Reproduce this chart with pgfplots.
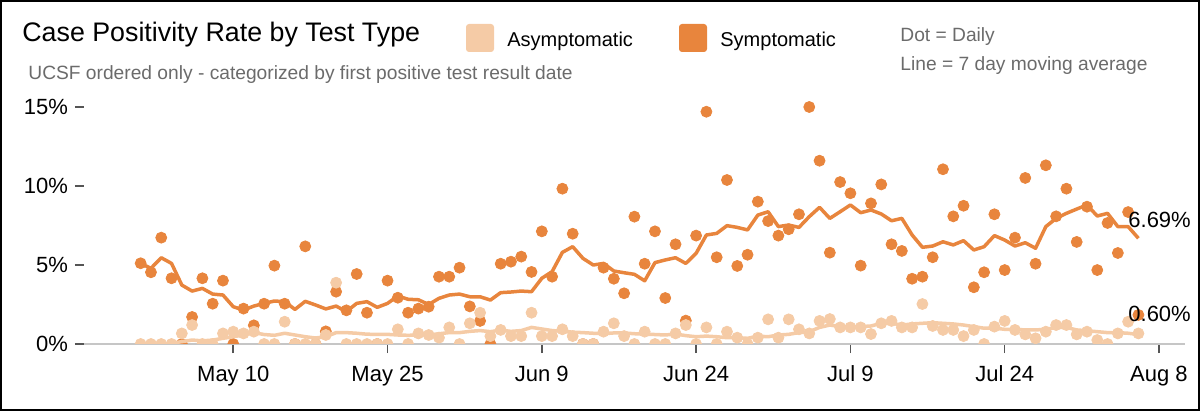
\documentclass[border=0pt]{standalone}
\usepackage{fontspec}
\setmainfont{Liberation Sans}
\usepackage{pgfplots}
\usepackage{pgfplotstable}
\pgfplotsset{compat=1.18}

\definecolor{symc}{HTML}{E8853D}
\definecolor{asymc}{HTML}{F5CBA6}
\definecolor{subgray}{HTML}{6B6B6B}
\definecolor{tickgray}{HTML}{555555}

% day 0 = May 1
\pgfplotstableread{
day val
0 5.11
1 4.54
2 6.73
3 4.16
4 0
5 1.71
6 4.16
7 2.55
8 4.01
9 0
10 2.24
11 1.18
12 2.55
13 4.96
14 2.55
15 0
16 6.18
17 0
18 0.8
19 3.31
20 2.13
21 4.43
22 1.98
23 0
24 4.01
25 2.93
26 1.98
27 2.24
28 2.36
29 4.26
30 4.26
31 4.83
32 2.38
33 1.46
34 0
35 5.08
36 5.21
37 5.53
38 4.56
39 7.13
40 4.26
41 9.83
42 6.98
43 0
44 0
45 4.83
46 4.13
47 3.21
48 8.06
49 5.08
50 7.13
51 2.91
52 6.31
53 1.48
54 6.86
55 14.70
56 5.49
57 10.38
58 4.94
59 5.65
60 9.01
61 7.78
62 6.86
63 7.26
64 8.21
65 15.0
66 11.6
67 5.78
68 10.25
69 9.54
70 4.96
71 8.9
72 10.1
73 6.31
74 5.89
75 4.13
76 4.26
77 5.49
78 11.06
79 8.08
80 8.75
81 3.59
82 4.54
83 8.21
84 4.68
85 6.73
86 10.51
87 5.08
88 11.31
89 8.08
90 9.83
91 6.46
92 8.69
93 4.68
94 7.66
95 5.76
96 8.35
97 1.84
}\symdaily

\pgfplotstableread{
day val
0 5.1
1 4.79
2 5.46
3 5.1
4 3.73
5 3.35
6 3.52
7 3.16
8 3.1
9 2.36
10 2.15
11 2.4
12 2.57
13 2.72
14 2.68
15 2.19
16 2.7
17 2.47
18 2.22
19 2.4
20 2.05
21 2.57
22 2.68
23 2.32
24 2.57
25 3.04
26 2.83
27 2.8
28 2.5
29 2.89
30 3.1
31 3.16
32 2.99
33 2.99
34 2.78
35 3.25
36 3.29
37 3.35
38 3.31
39 4.16
40 4.58
41 5.8
42 6.16
43 5.42
44 5.0
45 5.1
46 4.62
47 4.51
48 4.41
49 4.0
50 5.15
51 5.32
52 5.46
53 5.1
54 5.74
55 6.9
56 7.0
57 7.49
58 7.38
59 7.22
60 8.16
61 8.37
62 7.43
63 7.53
64 7.38
65 8.06
66 8.65
67 7.95
68 8.37
69 8.8
70 8.31
71 8.48
72 8.23
73 7.8
74 7.95
75 6.9
76 6.12
77 6.2
78 6.47
79 6.27
80 6.54
81 5.95
82 6.16
83 6.86
84 6.58
85 6.2
86 6.41
87 6.06
88 7.43
89 7.95
90 8.27
91 8.54
92 8.8
93 8.1
94 8.27
95 7.43
96 7.43
97 6.69
}\symavg

\pgfplotstableread{
day val
0 0
1 0
2 0
3 0
4 0.67
5 1.2
6 0
7 0
8 0.67
9 0.78
10 0.67
11 0.78
12 0
13 0
14 1.41
15 0
16 0
17 0
18 0.57
19 3.88
20 0
21 0
22 0
23 0
24 0
25 0.93
26 0
27 0.67
28 0.57
29 0.4
30 1.05
31 0
32 1.31
33 1.98
34 0.5
35 0.89
36 0.5
37 0.5
38 1.98
39 0.5
40 0.5
41 0.93
42 0.5
43 0
44 0
45 0.78
46 1.31
47 0.5
48 0
49 0.78
50 0
51 0
52 0.67
53 1.2
54 0
55 1.05
56 0
57 0.78
58 0.4
59 0
60 0.4
61 1.56
62 0.4
63 1.56
64 0.93
65 0.67
66 1.46
67 1.58
68 1.05
69 1.05
70 1.05
71 0.63
72 1.31
73 1.46
74 1.05
75 1.05
76 2.53
77 1.14
78 0.89
79 0.89
80 0.5
81 0.89
82 0
83 1.1
84 1.46
85 0.89
86 0.61
87 0.36
88 0.78
89 1.2
90 1.2
91 0.61
92 0.78
93 0.25
94 0
95 0.67
96 1.41
97 0.67
}\asymdaily

\pgfplotstableread{
day val
3 0.05
4 0.15
5 0.25
6 0.2
7 0.25
8 0.36
9 0.46
10 0.57
11 0.72
12 0.6
13 0.55
14 0.68
15 0.57
16 0.46
17 0.38
18 0.46
19 0.72
20 0.72
21 0.68
22 0.62
23 0.61
24 0.61
25 0.57
26 0.55
27 0.57
28 0.57
29 0.65
30 0.72
31 0.72
32 0.8
33 0.85
34 0.78
35 0.88
36 0.8
37 0.85
38 1.05
39 0.95
40 0.85
41 0.8
42 0.75
43 0.72
44 0.68
45 0.65
46 0.7
47 0.7
48 0.65
49 0.62
50 0.6
51 0.57
52 0.63
53 0.53
54 0.46
55 0.5
56 0.46
57 0.4
58 0.4
59 0.36
60 0.5
61 0.46
62 0.57
63 0.61
64 0.72
65 0.78
66 1.05
67 1.2
68 1.1
69 1.1
70 1.1
71 1.14
72 1.31
73 1.31
74 1.2
75 1.27
76 1.31
77 1.35
78 1.31
79 1.27
80 1.2
81 1.1
82 1.0
83 1.0
84 0.93
85 0.93
86 0.89
87 0.89
88 0.93
89 1.05
90 1.05
91 0.89
92 0.84
93 0.78
94 0.72
95 0.72
96 0.68
97 0.6
}\asymavg

\begin{document}
\begin{tikzpicture}
\useasboundingbox (0,0) rectangle (600bp,205.5bp);
\draw[line width=1.2bp] (0.6bp,0.6bp) rectangle (599.4bp,204.9bp);

\begin{axis}[
    at={(42bp,33.5bp)}, anchor=south west,
    scale only axis,
    width=550.5bp, height=130.35bp,
    xmin=-5.51, xmax=101.53,
    ymin=0, ymax=16.5,
    axis x line*=bottom, axis y line*=left,
    x axis line style={-, draw=gray!45, line width=0.9bp},
    y axis line style={draw=none},
    tick align=outside,
    major tick length=4.5bp,
    every tick/.style={tickgray, line width=0.8bp},
    xtick={9,24,39,54,69,84,99},
    xticklabels={May 10,May 25,Jun 9,Jun 24,Jul 9,Jul 24,Aug 8},
    ytick={0,5,10,15},
    yticklabels={0\%,5\%,10\%,15\%},
    ticklabel style={font=\fontsize{11bp}{13bp}\selectfont, text=black},
    xticklabel style={yshift=-3bp},
    clip=true, clip marker paths=true, clip mode=individual,
]
\addplot[only marks, color=symc, mark=*, mark size=2.75bp] table[x=day, y=val] {\symdaily};
\addplot[symc, line width=1.75bp, line join=round, no marks] table[x=day, y=val] {\symavg};
\addplot[only marks, color=asymc, mark=*, mark size=2.75bp] table[x=day, y=val] {\asymdaily};
\addplot[asymc, line width=1.75bp, line join=round, no marks] table[x=day, y=val] {\asymavg};
\end{axis}

% header
\node[anchor=base west, inner sep=0pt, font=\fontsize{13.4bp}{16bp}\selectfont] at (11bp,184.5bp) {Case Positivity Rate by Test Type};
\node[anchor=base west, inner sep=0pt, text=subgray, font=\fontsize{9.6bp}{11.5bp}\selectfont] at (14bp,165.5bp) {UCSF ordered only - categorized by first positive test result date};
\fill[asymc, rounded corners=1.5bp] (233bp,179.5bp) rectangle (247bp,193.5bp);
\node[anchor=base west, inner sep=0pt, font=\fontsize{10bp}{12bp}\selectfont] at (253.5bp,182bp) {Asymptomatic};
\fill[symc, rounded corners=1.5bp] (339.5bp,179.5bp) rectangle (353.5bp,193.5bp);
\node[anchor=base west, inner sep=0pt, font=\fontsize{10bp}{12bp}\selectfont] at (360bp,182bp) {Symptomatic};
\node[anchor=base west, inner sep=0pt, text=subgray, font=\fontsize{9.6bp}{11.5bp}\selectfont] at (450bp,184.5bp) {Dot = Daily};
\node[anchor=base west, inner sep=0pt, text=subgray, font=\fontsize{9.6bp}{11.5bp}\selectfont] at (450bp,170bp) {Line = 7 day moving average};
% end labels
\node[anchor=base west, inner sep=0pt, font=\fontsize{11bp}{13bp}\selectfont] at (564bp,91.5bp) {6.69\%};
\node[anchor=base west, inner sep=0pt, font=\fontsize{11bp}{13bp}\selectfont] at (564bp,44.5bp) {0.60\%};
\end{tikzpicture}
\end{document}
